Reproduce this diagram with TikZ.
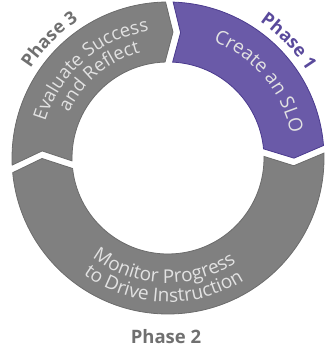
\documentclass[tikz,border=0pt]{standalone}
\usepackage{fontspec}
\setmainfont{Open Sans}
\usetikzlibrary{decorations.text}
\definecolor{seggray}{HTML}{808080}
\definecolor{segedge}{HTML}{6C6C6C}
\definecolor{segpurple}{HTML}{6A5AA8}
\definecolor{purpleedge}{HTML}{4B3B8E}
\definecolor{labgray}{HTML}{707070}
\definecolor{labpurple}{HTML}{5A4A9C}
\definecolor{ringtext}{HTML}{E2E2E2}
\def\Ro{156}
\def\Rm{126}
\def\Ri{96}
\def\halfgap{3.8}
\newcommand\RingSeg[5]{%
  \pgfmathsetmacro\gR{\halfgap/\Ro*180/pi}%
  \pgfmathsetmacro\gM{\halfgap/\Rm*180/pi}%
  \pgfmathsetmacro\gI{\halfgap/\Ri*180/pi}%
  \pgfmathsetmacro\aOs{#1-\gR}%
  \pgfmathsetmacro\aOe{#3+\gR}%
  \pgfmathsetmacro\aTip{#3-#4+\gM}%
  \pgfmathsetmacro\aIe{#3+\gI}%
  \pgfmathsetmacro\aIs{#1-\gI}%
  \pgfmathsetmacro\aNotch{#1-#2-\gM}%
  \draw[#5] (\aOs:\Ro) arc[start angle=\aOs, end angle=\aOe, radius=\Ro]
     -- (\aTip:\Rm) -- (\aIe:\Ri) arc[start angle=\aIe, end angle=\aIs, radius=\Ri]
     -- (\aNotch:\Rm) -- cycle;
}
\newcommand\ArcText[5]{% #1 start angle, #2 end angle, #3 radius, #4 text, #5 color
  \path[decorate, decoration={text along path, text align=center, text color=#5,
     text={#4}}] (#1:#3) arc[start angle=#1, end angle=#2, radius=#3];
}
\tikzset{
  graysegment/.style={fill=seggray, draw=segedge, line width=0.8pt, line join=miter},
  purplesegment/.style={fill=segpurple, draw=purpleedge, line width=0.8pt, line join=miter},
}
\begin{document}
\begin{tikzpicture}[x=1pt, y=1pt]
\useasboundingbox (-168,-189) rectangle (161,158);
% segments: start boundary, start depth, end boundary, end depth
\RingSeg{89.5}{3.5}{3.2}{5}{purplesegment}
\RingSeg{3.2}{5}{-176}{5.5}{graysegment}
\RingSeg{184}{5.5}{89.5}{3.5}{graysegment}
% ring texts
\ArcText{90}{-10}{125}{|\fontsize{19}{22}\selectfont|Create an SLO}{ringtext}
\ArcText{195}{67}{128}{|\fontsize{18.5}{22}\selectfont|Evaluate Success}{ringtext}
\ArcText{195}{65}{109}{|\fontsize{18.5}{22}\selectfont|and Reflect}{ringtext}
\ArcText{205}{331}{125}{|\fontsize{19}{22}\selectfont|Monitor Progress}{ringtext}
\ArcText{207}{329}{144}{|\fontsize{19}{22}\selectfont|to Drive Instruction}{ringtext}
% phase labels
\ArcText{180}{90}{164}{|\bfseries\fontsize{18}{21}\selectfont|Phase 3}{labgray}
\ArcText{88}{0}{164}{|\bfseries\fontsize{18}{21}\selectfont|Phase 1}{labpurple}
\node[font=\bfseries\fontsize{18.5}{22}\selectfont, text=labgray] (p2) at (-2,-179) {Phase 2};
\end{tikzpicture}
\end{document}
